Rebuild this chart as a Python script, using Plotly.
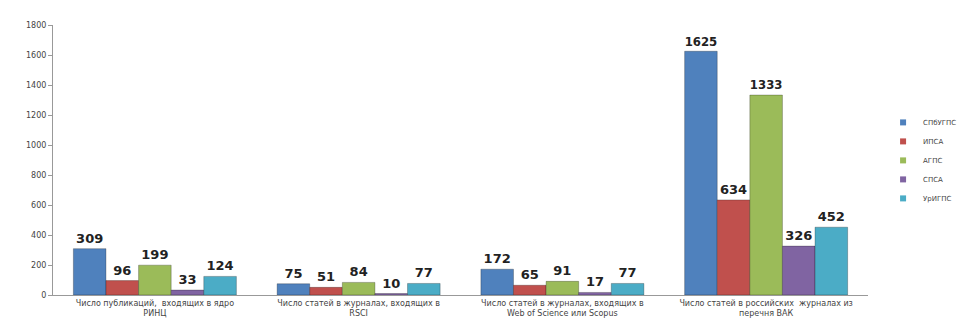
import plotly.graph_objects as go

categories = [
    "Число публикаций,  входящих в ядро<br>РИНЦ",
    "Число статей в журналах, входящих в<br>RSCI",
    "Число статей в журналах, входящих в<br>Web of Science или Scopus",
    "Число статей в российских  журналах из<br>перечня ВАК",
]
series_names = ["СПбУГПС", "ИПСА", "АГПС", "СПСА", "УрИГПС"]
values = {
    "СПбУГПС": [309, 75, 172, 1625],
    "ИПСА": [96, 51, 65, 634],
    "АГПС": [199, 84, 91, 1333],
    "СПСА": [33, 10, 17, 326],
    "УрИГПС": [124, 77, 77, 452],
}
colors = ["#4F81BD", "#C0504D", "#9BBB59", "#8064A2", "#4BACC6"]
y_ticks = list(range(0, 1801, 200))

fig = go.Figure()
for name, col in zip(series_names, colors):
    fig.add_trace(go.Bar(
        x=categories, y=values[name], name=name, showlegend=False,
        legendgroup=name,
        marker=dict(color=col, line=dict(color="rgba(0,0,0,0.25)", width=1)),
        text=[str(v) for v in values[name]], textposition="outside",
        textfont=dict(family="DejaVu Sans", size=13, color="#222222"),
        texttemplate="<b>%{text}</b>", cliponaxis=False,
    ))
# small square legend keys
for name, col in zip(series_names, colors):
    fig.add_trace(go.Scatter(
        x=[categories[0]], y=[None], mode="markers", name=name,
        legendgroup=name, showlegend=True,
        marker=dict(symbol="square", size=6, color=col),
    ))

fig.update_layout(
    width=968, height=333,
    margin=dict(l=45, r=108, t=17, b=46, autoexpand=False),
    paper_bgcolor="white", plot_bgcolor="white",
    barmode="group", bargap=0.2, bargroupgap=0.0,
    font=dict(family="DejaVu Sans", size=9, color="#444444"),
    legend=dict(xref="container", yref="container", x=0.904, y=0.70,
                xanchor="left", yanchor="top",
                font=dict(size=7, color="#444444"), itemwidth=30,
                tracegroupgap=0, bgcolor="rgba(0,0,0,0)"),
    showlegend=True,
)
fig.update_yaxes(range=[0, 1800], tickvals=y_ticks, showgrid=False,
                 showline=True, linecolor="#999999", ticks="outside",
                 ticklen=4, tickcolor="#999999", tickfont=dict(size=8))
fig.update_xaxes(showline=True, linecolor="#999999", ticks="",
                 tickfont=dict(size=8))

fig.write_html("out.html")
